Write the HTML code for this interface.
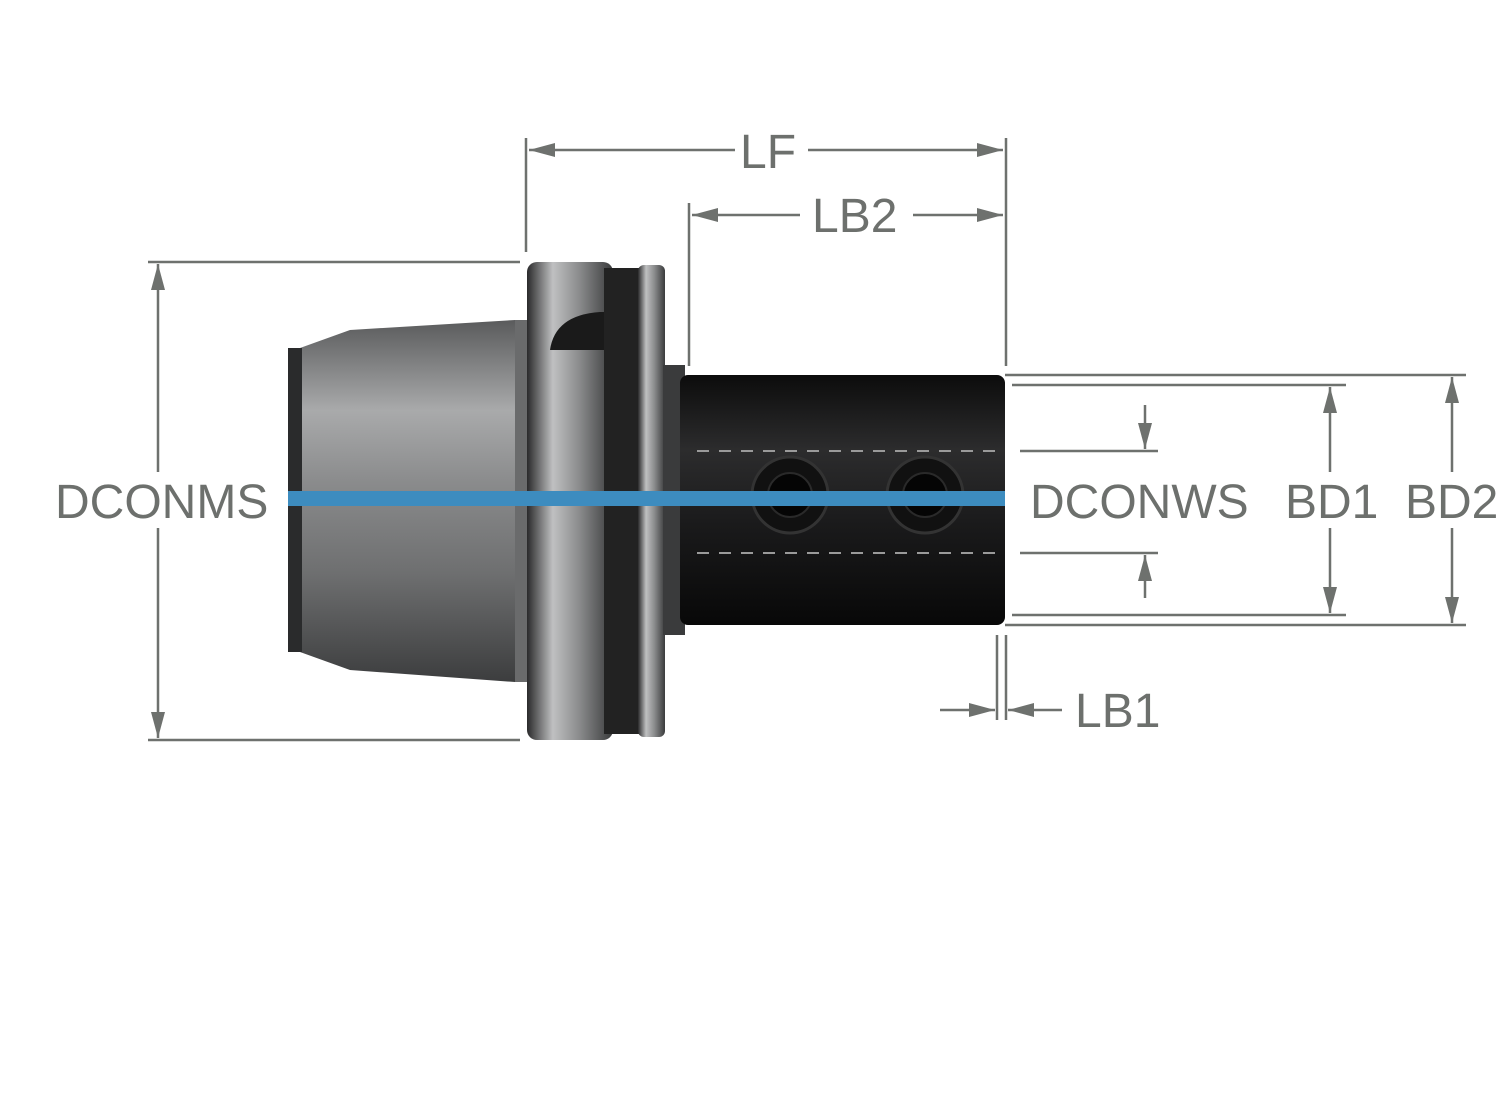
<!DOCTYPE html>
<html><head><meta charset="utf-8"><style>
html,body{margin:0;padding:0;background:#fff}
svg{display:block}
text{font-family:"Liberation Sans",sans-serif;fill:#6d706d}
</style></head><body>
<svg width="1500" height="1113" viewBox="0 0 1500 1113" xmlns="http://www.w3.org/2000/svg">
<defs>
<linearGradient id="g1" x1="0" y1="0" x2="0" y2="1">
<stop offset="0" stop-color="#5a5b5c"/><stop offset="0.25" stop-color="#a9aaab"/><stop offset="0.45" stop-color="#8a8b8c"/><stop offset="0.7" stop-color="#6e6f70"/><stop offset="1" stop-color="#3c3d3e"/></linearGradient>
<linearGradient id="g2" x1="0" y1="0" x2="1" y2="0">
<stop offset="0" stop-color="#2a2a2b"/><stop offset="0.3" stop-color="#bfc0c1"/><stop offset="0.6" stop-color="#8c8d8e"/><stop offset="1" stop-color="#3a3b3c"/></linearGradient>
<linearGradient id="g3" x1="0" y1="0" x2="0" y2="1">
<stop offset="0" stop-color="#0c0c0c"/><stop offset="0.3" stop-color="#2c2c2d"/><stop offset="0.6" stop-color="#1a1a1b"/><stop offset="1" stop-color="#080808"/></linearGradient>
<marker id="a" markerWidth="26" markerHeight="14" refX="26" refY="7" orient="auto" markerUnits="userSpaceOnUse"><path d="M0,0 L26,7 L0,14 Z" fill="#6e716e"/></marker>
</defs>
<g stroke="#6e716e" stroke-width="2.5" fill="none">
<line x1="526" y1="138" x2="526" y2="252"/>
<line x1="1006" y1="138" x2="1006" y2="366"/>
<line x1="689" y1="203" x2="689" y2="366"/>
<line x1="148" y1="262" x2="520" y2="262"/>
<line x1="148" y1="740" x2="520" y2="740"/>
<line x1="1005" y1="375" x2="1466" y2="375"/>
<line x1="1005" y1="625" x2="1466" y2="625"/>
<line x1="1012" y1="385" x2="1346" y2="385"/>
<line x1="1012" y1="615" x2="1346" y2="615"/>
<line x1="1020" y1="451" x2="1158" y2="451"/>
<line x1="1020" y1="553" x2="1158" y2="553"/>
<line x1="997" y1="635" x2="997" y2="720"/>
<line x1="1006" y1="635" x2="1006" y2="720"/>
<line x1="735" y1="150" x2="529" y2="150" marker-end="url(#a)"/>
<line x1="808" y1="150" x2="1003" y2="150" marker-end="url(#a)"/>
<line x1="800" y1="215" x2="692" y2="215" marker-end="url(#a)"/>
<line x1="913" y1="215" x2="1003" y2="215" marker-end="url(#a)"/>
<line x1="158" y1="472" x2="158" y2="264" marker-end="url(#a)"/>
<line x1="158" y1="528" x2="158" y2="738" marker-end="url(#a)"/>
<line x1="1330" y1="472" x2="1330" y2="387" marker-end="url(#a)"/>
<line x1="1330" y1="528" x2="1330" y2="613" marker-end="url(#a)"/>
<line x1="1452" y1="472" x2="1452" y2="377" marker-end="url(#a)"/>
<line x1="1452" y1="528" x2="1452" y2="623" marker-end="url(#a)"/>
<line x1="1145" y1="405" x2="1145" y2="449" marker-end="url(#a)"/>
<line x1="1145" y1="598" x2="1145" y2="555" marker-end="url(#a)"/>
<line x1="940" y1="710" x2="995" y2="710" marker-end="url(#a)"/>
<line x1="1062" y1="710" x2="1008" y2="710" marker-end="url(#a)"/>
</g>
<path d="M300,348 L350,330 L515,320 L525,322 L525,680 L515,682 L350,670 L300,652 L290,648 L290,352 Z" fill="url(#g1)"/>
<rect x="288" y="348" width="14" height="304" fill="#2a2b2c"/>
<rect x="515" y="320" width="12" height="362" fill="#6a6b6c"/>
<rect x="527" y="262" width="86" height="478" rx="10" fill="url(#g2)"/>
<path d="M550,350 Q555,315 600,312 L610,312 L610,350 Z" fill="#1a1a1a"/>
<rect x="604" y="268" width="36" height="466" fill="#222"/>
<rect x="638" y="265" width="27" height="472" rx="6" fill="url(#g2)"/>
<rect x="663" y="365" width="22" height="270" fill="#3a3b3c"/>
<rect x="680" y="375" width="325" height="250" rx="8" fill="url(#g3)"/>
<line x1="697" y1="451" x2="1000" y2="451" stroke="#9a9a9a" stroke-width="2" stroke-dasharray="12,10"/>
<line x1="697" y1="553" x2="1000" y2="553" stroke="#9a9a9a" stroke-width="2" stroke-dasharray="12,10"/>
<circle cx="790" cy="495" r="38" fill="#111" stroke="#333" stroke-width="3"/>
<circle cx="790" cy="495" r="22" fill="#050505" stroke="#2a2a2a" stroke-width="2"/>
<circle cx="925" cy="495" r="38" fill="#111" stroke="#333" stroke-width="3"/>
<circle cx="925" cy="495" r="22" fill="#050505" stroke="#2a2a2a" stroke-width="2"/>
<rect x="288" y="491" width="717" height="15" fill="#3d8cbf"/>
<text x="55" y="518" font-size="48">DCONMS</text>
<text x="1030" y="518" font-size="48">DCONWS</text>
<text x="1285" y="518" font-size="48">BD1</text>
<text x="1405" y="518" font-size="48">BD2</text>
<text x="740" y="168" font-size="48">LF</text>
<text x="812" y="232" font-size="48">LB2</text>
<text x="1075" y="727" font-size="48">LB1</text>
</svg>
</body></html>
